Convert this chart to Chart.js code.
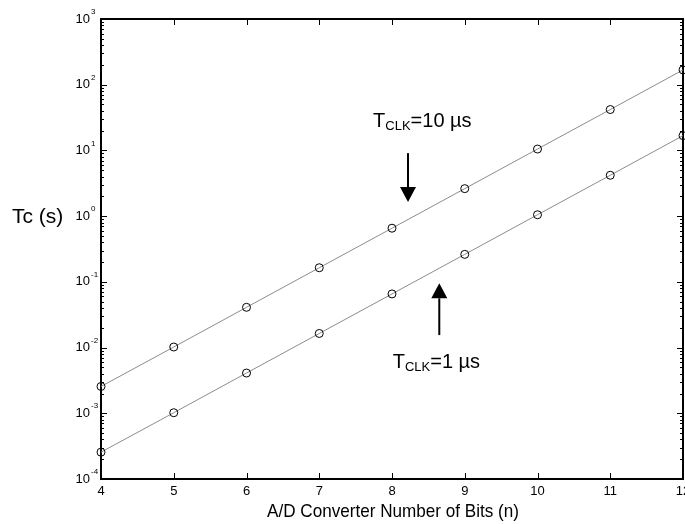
<!DOCTYPE html>
<html>
<head>
<meta charset="utf-8">
<script src="https://cdn.jsdelivr.net/npm/chart.js@4/dist/chart.umd.min.js"></script>
<style>
  html, body { margin: 0; padding: 0; background: #fff; }
  #wrap { width: 685px; height: 524px; position: relative; }
</style>
</head>
<body>
<div id="wrap"><canvas id="chart"></canvas></div>
<script>
// Data
const bits = [4, 5, 6, 7, 8, 9, 10, 11, 12];
const tc1us = [0.000256, 0.00102, 0.0041, 0.0164, 0.0655, 0.262, 1.05, 4.19, 16.8];
const tc10us = [0.00256, 0.0102, 0.041, 0.164, 0.655, 2.62, 10.5, 41.9, 168];
const xTicks = [4, 5, 6, 7, 8, 9, 10, 11, 12];
const yExponents = [-4, -3, -2, -1, 0, 1, 2, 3];

// annotation: [x value, arrow start y, arrow end y, text x value, text y value, label]
const note10 = [8.22, 9.1, 1.64, 7.74, 23, '=10 µs'];
const note1 = [8.65, 0.0155, 0.095, 8.01, 0.0049, '=1 µs'];

const FONT = '"Liberation Sans", Arial, sans-serif';

function drawNote(ctx, xs, ys, n, up) {
    const x = xs.getPixelForValue(n[0]);
    const y0 = ys.getPixelForValue(n[1]);
    const y1 = ys.getPixelForValue(n[2]);
    const head = 15;
    ctx.strokeStyle = '#000';
    ctx.fillStyle = '#000';
    ctx.lineWidth = 2;
    ctx.beginPath();
    ctx.moveTo(x, y0);
    ctx.lineTo(x, up ? y1 + head : y1 - head);
    ctx.stroke();
    ctx.beginPath();
    ctx.moveTo(x, y1);
    ctx.lineTo(x - 8, up ? y1 + head : y1 - head);
    ctx.lineTo(x + 8, up ? y1 + head : y1 - head);
    ctx.closePath();
    ctx.fill();

    // T_CLK label
    let tx = xs.getPixelForValue(n[3]);
    const ty = ys.getPixelForValue(n[4]);
    ctx.textAlign = 'left';
    ctx.textBaseline = 'alphabetic';
    ctx.font = '20px ' + FONT;
    ctx.fillText('T', tx, ty);
    tx += ctx.measureText('T').width;
    ctx.font = '13px ' + FONT;
    ctx.fillText('CLK', tx, ty + 3);
    tx += ctx.measureText('CLK').width;
    ctx.font = '20px ' + FONT;
    ctx.fillText(n[5], tx, ty);
}

const framePlugin = {
    id: 'frame',
    beforeDatasetsDraw(chart) {
        const ctx = chart.ctx;
        const a = chart.chartArea;
        const xs = chart.scales.x;
        const ys = chart.scales.y;
        ctx.save();
        ctx.strokeStyle = '#000';
        ctx.lineWidth = 2;
        ctx.strokeRect(a.left, a.top, a.right - a.left, a.bottom - a.top);

        ctx.lineWidth = 1;
        ctx.beginPath();
        // x ticks, inward on bottom and top
        xTicks.forEach(v => {
            const px = Math.round(xs.getPixelForValue(v)) + 0.5;
            ctx.moveTo(px, a.bottom); ctx.lineTo(px, a.bottom - 6);
            ctx.moveTo(px, a.top); ctx.lineTo(px, a.top + 6);
        });
        // y ticks, major and minor on both sides
        yExponents.forEach(e => {
            for (let m = 1; m <= 9; m++) {
                if (e === 3 && m > 1) break;
                const py = Math.round(ys.getPixelForValue(m * Math.pow(10, e))) + 0.5;
                const len = m === 1 ? 6 : 3;
                ctx.moveTo(a.left, py); ctx.lineTo(a.left + len, py);
                ctx.moveTo(a.right, py); ctx.lineTo(a.right - len, py);
            }
        });
        ctx.stroke();
        ctx.restore();
    },
    afterDraw(chart) {
        const ctx = chart.ctx;
        const a = chart.chartArea;
        const xs = chart.scales.x;
        const ys = chart.scales.y;
        ctx.save();
        ctx.fillStyle = '#000';

        // x tick labels
        ctx.font = '13px ' + FONT;
        ctx.textAlign = 'center';
        ctx.textBaseline = 'top';
        xTicks.forEach(v => ctx.fillText(String(v), xs.getPixelForValue(v), a.bottom + 6));

        // y tick labels as 10^e
        yExponents.forEach(e => {
            const py = ys.getPixelForValue(Math.pow(10, e));
            ctx.font = '13px ' + FONT;
            ctx.textAlign = 'right';
            ctx.textBaseline = 'middle';
            ctx.fillText('10', a.left - 11, py);
            ctx.font = '8px ' + FONT;
            ctx.textAlign = 'left';
            ctx.fillText(String(e), a.left - 10, py - 7);
        });

        // axis titles
        ctx.font = '19px ' + FONT;
        ctx.textAlign = 'center';
        ctx.textBaseline = 'alphabetic';
        ctx.save();
        ctx.translate(393, 517);
        ctx.scale(0.9, 1);
        ctx.fillText('A/D Converter Number of Bits (n)', 0, 0);
        ctx.restore();
        ctx.font = '21px ' + FONT;
        ctx.textAlign = 'left';
        ctx.fillText('Tc (s)', 12, 223);

        drawNote(ctx, xs, ys, note10, false);
        drawNote(ctx, xs, ys, note1, true);
        ctx.restore();
    }
};

const lineStyle = {
    borderColor: '#8c8c8c',
    borderWidth: 1,
    pointStyle: 'circle',
    pointRadius: 4,
    pointBorderColor: '#000',
    pointBackgroundColor: 'rgba(255,255,255,0)',
    pointBorderWidth: 1,
    tension: 0,
    clip: false
};

new Chart(document.getElementById('chart'), {
    type: 'line',
    data: {
        datasets: [
            Object.assign({ label: 'TCLK=10 µs', data: bits.map((b, i) => ({ x: b, y: tc10us[i] })) }, lineStyle),
            Object.assign({ label: 'TCLK=1 µs', data: bits.map((b, i) => ({ x: b, y: tc1us[i] })) }, lineStyle)
        ]
    },
    options: {
        responsive: true,
        maintainAspectRatio: false,
        animation: false,
        layout: { autoPadding: false, padding: { left: 101, right: 2, top: 19, bottom: 45 } },
        plugins: {
            legend: { display: false },
            tooltip: { enabled: false }
        },
        scales: {
            x: {
                type: 'linear',
                min: 4,
                max: 12,
                grid: { display: false },
                border: { display: false },
                ticks: { display: false },
                afterFit(s) { s.height = 0; }
            },
            y: {
                type: 'logarithmic',
                min: 1e-4,
                max: 1e3,
                grid: { display: false },
                border: { display: false },
                ticks: { display: false },
                afterFit(s) { s.width = 0; }
            }
        }
    },
    plugins: [framePlugin]
});
</script>
</body>
</html>
